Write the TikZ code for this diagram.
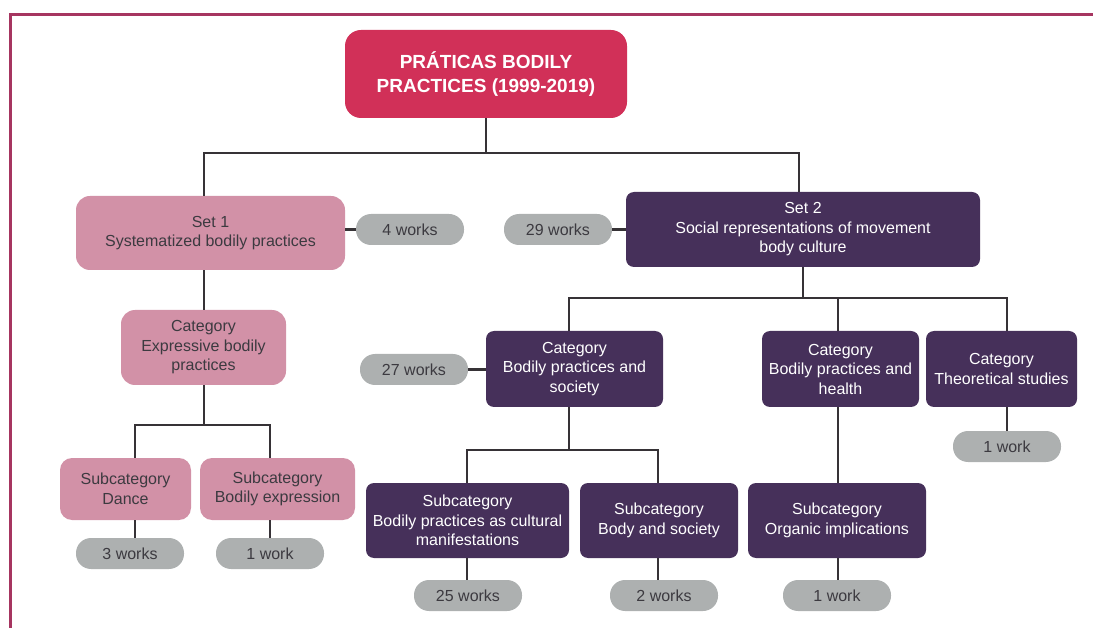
\documentclass[tikz,border=0pt]{standalone}
\usepackage{fontspec}
\setmainfont{Liberation Sans}
\definecolor{titlecol}{HTML}{D13058}
\definecolor{pinkcol}{HTML}{D291A7}
\definecolor{purplecol}{HTML}{46305A}
\definecolor{graycol}{HTML}{ADB0B0}
\definecolor{linecol}{HTML}{363236}
\definecolor{framecol}{HTML}{A63560}
\definecolor{txtdark}{HTML}{3C3A40}
\tikzset{
  conn/.style={draw=linecol, line width=2.7pt},
  basebox/.style={align=center, inner sep=0pt, font=\fontsize{16}{19.5}\selectfont},
  titlebox/.style={basebox, fill=titlecol, text=white, rounded corners=16pt, font=\fontsize{19}{24}\selectfont\bfseries},
  pinkbox/.style={basebox, fill=pinkcol, text=txtdark, rounded corners=14pt},
  purplebox/.style={basebox, fill=purplecol, text=white, rounded corners=8pt},
  pill/.style={basebox, fill=graycol, text=txtdark, rounded corners=15pt, minimum width=108pt, minimum height=31pt},
}
\begin{document}
\begin{tikzpicture}[x=1pt,y=-1pt]
\useasboundingbox (0,0) rectangle (1093,628);
% frame
\draw[framecol, line width=3pt] (10,628) -- (10,15) -- (1093,15);

% nodes
\node[titlebox, minimum width=282pt, minimum height=88pt] (title) at (486,74) {PRÁTICAS BODILY\\PRACTICES (1999-2019)};

\node[pinkbox, minimum width=269pt, minimum height=74pt] (set1) at (210.5,233) {Set 1\\Systematized bodily practices};
\node[pill] (w4) at (410,229.5) {4 works};
\node[pinkbox, minimum width=165pt, minimum height=75pt] (cat1) at (203.5,347.5) {Category\\Expressive bodily\\practices};
\node[pinkbox, minimum width=131pt, minimum height=62pt, rounded corners=12pt] (dance) at (125.5,489) {Subcategory\\Dance};
\node[pinkbox, minimum width=155pt, minimum height=62pt, rounded corners=12pt] (bexp) at (277.5,489) {Subcategory\\Bodily expression};
\node[pill] (w3) at (130,553.5) {3 works};
\node[pill] (w1a) at (270,553.5) {1 work};

\node[purplebox, minimum width=354pt, minimum height=75pt] (set2) at (803,229.5) {Set 2\\Social representations of movement\\body culture};
\node[pill] (w29) at (558,229.5) {29 works};
\node[purplebox, minimum width=177pt, minimum height=76pt] (cats) at (574.5,369) {Category\\Bodily practices and\\society};
\node[purplebox, minimum width=157pt, minimum height=76pt] (cath) at (840.5,369) {Category\\Bodily practices and\\health};
\node[purplebox, minimum width=151pt, minimum height=76pt] (catt) at (1001.5,369) {Category\\Theoretical studies};
\node[pill] (w27) at (414,369.5) {27 works};
\node[purplebox, minimum width=203pt, minimum height=75pt] (subc) at (467.5,520.5) {Subcategory\\Bodily practices as cultural\\manifestations};
\node[purplebox, minimum width=158pt, minimum height=75pt] (subb) at (659,520.5) {Subcategory\\Body and society};
\node[purplebox, minimum width=178pt, minimum height=75pt] (subo) at (837,520.5) {Subcategory\\Organic implications};
\node[pill] (w25) at (468,595.5) {25 works};
\node[pill] (w2) at (664,595.5) {2 works};
\node[pill] (w1b) at (837,595.5) {1 work};
\node[pill] (w1c) at (1007,446.5) {1 work};

% branch coordinates
\coordinate (b1) at (204,153);
\coordinate (b2) at (799,153);
\coordinate (c1) at (135,425);
\coordinate (c2) at (270,425);
\coordinate (d1) at (569,298);
\coordinate (d2) at (838,298);
\coordinate (d3) at (1007,298);
\coordinate (e1) at (467,450);
\coordinate (e2) at (658,450);

% connectors
\draw[conn] (title.south) -- (title.south |- b1);
\draw[conn] (b1 |- set1.north) -- (b1) -- (b2) -- (b2 |- set2.north);
\draw[conn] (w4.west -| set1.east) -- (w4.west);
\draw[conn] (b1 |- set1.south) -- (b1 |- cat1.north);
\draw[conn] (b1 |- cat1.south) -- (b1 |- c1);
\draw[conn] (c1 |- dance.north) -- (c1) -- (c2) -- (c2 |- bexp.north);
\draw[conn] (c1 |- dance.south) -- (c1 |- w3.north);
\draw[conn] (c2 |- bexp.south) -- (c2 |- w1a.north);

\draw[conn] (set2.west) -- (w29.east);
\draw[conn] (set2.south) -- (set2.south |- d1);
\draw[conn] (d1 |- cats.north) -- (d1) -- (d3) -- (d3 |- catt.north);
\draw[conn] (d2) -- (d2 |- cath.north);
\draw[conn] (w27.east -| cats.west) -- (w27.east);
\draw[conn] (d1 |- cats.south) -- (d1 |- e1);
\draw[conn] (e1 |- subc.north) -- (e1) -- (e2) -- (e2 |- subb.north);
\draw[conn] (e1 |- subc.south) -- (e1 |- w25.north);
\draw[conn] (e2 |- subb.south) -- (e2 |- w2.north);
\draw[conn] (d2 |- cath.south) -- (d2 |- subo.north);
\draw[conn] (d2 |- subo.south) -- (d2 |- w1b.north);
\draw[conn] (d3 |- catt.south) -- (d3 |- w1c.north);
\end{tikzpicture}
\end{document}
